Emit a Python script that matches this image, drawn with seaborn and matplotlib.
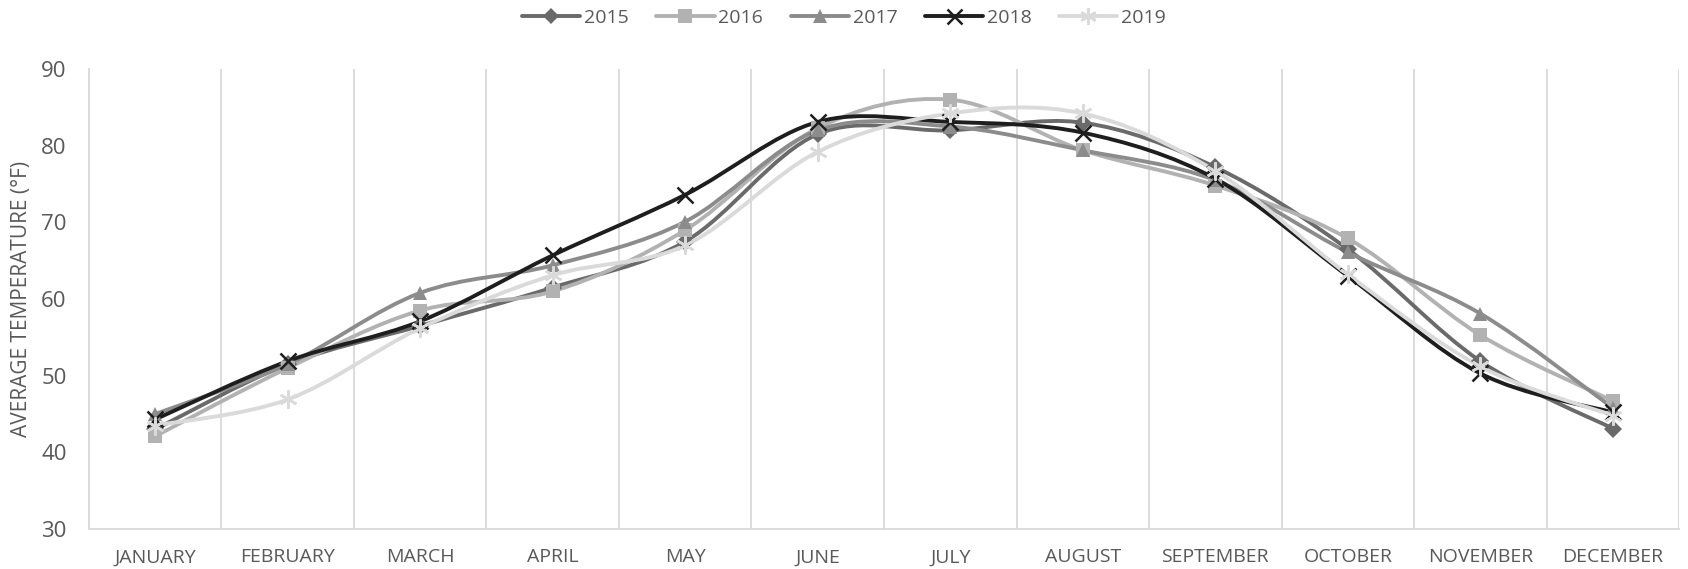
import numpy as np
import pandas as pd
import matplotlib
matplotlib.use("Agg")
import matplotlib.pyplot as plt
from matplotlib.path import Path
from matplotlib.patches import PathPatch
from matplotlib.lines import Line2D
import seaborn as sns

months = ["JANUARY", "FEBRUARY", "MARCH", "APRIL", "MAY", "JUNE", "JULY",
          "AUGUST", "SEPTEMBER", "OCTOBER", "NOVEMBER", "DECEMBER"]
years = ["2015", "2016", "2017", "2018", "2019"]
t2015 = [43.0, 51.5, 56.5, 61.5, 67.5, 81.5, 82.0, 83.0, 77.2, 66.5, 51.9, 43.1]
t2016 = [42.1, 51.0, 58.5, 61.0, 69.0, 82.3, 86.0, 79.4, 74.8, 67.9, 55.3, 46.7]
t2017 = [45.0, 51.5, 60.8, 64.4, 70.1, 82.0, 82.5, 79.4, 75.5, 66.1, 58.1, 45.8]
t2018 = [44.3, 51.9, 57.1, 65.7, 73.6, 83.1, 83.1, 81.7, 75.7, 63.0, 50.3, 45.2]
t2019 = [43.5, 46.9, 56.2, 63.1, 67.0, 79.2, 84.2, 84.2, 76.7, 63.2, 51.2, 44.8]
yticks = [30, 40, 50, 60, 70, 80, 90]

series = {"2015": t2015, "2016": t2016, "2017": t2017, "2018": t2018, "2019": t2019}
colors = {"2015": "#6a6a6a", "2016": "#b2b2b2", "2017": "#8c8c8c",
          "2018": "#1e1e1e", "2019": "#dadada"}
markers = {"2015": "D", "2016": "s", "2017": "^", "2018": "x", "2019": (6, 2, 0)}
msizes = {"2015": 9.5, "2016": 10.5, "2017": 10.5, "2018": 12, "2019": 13}

sns.set_theme(style="white")
plt.rcParams["font.family"] = ["Open Sans", "DejaVu Sans"]

fig = plt.figure(figsize=(16.88, 5.69), dpi=100)
ax = fig.add_axes([0.0527, 0.0703, 0.942, 0.8084])

x = np.arange(len(months))


def smooth_path(xs, ys):
    pts = np.column_stack([xs, ys]).astype(float)
    n = len(pts)
    verts = [pts[0]]
    codes = [Path.MOVETO]
    for i in range(n - 1):
        p0 = pts[i - 1] if i > 0 else pts[i]
        p1 = pts[i]
        p2 = pts[i + 1]
        p3 = pts[i + 2] if i + 2 < n else pts[i + 1]
        c1 = p1 + (p2 - p0) / 6.0
        c2 = p2 - (p3 - p1) / 6.0
        verts += [c1, c2, p2]
        codes += [Path.CURVE4] * 3
    return Path(verts, codes)


for yr in years:
    vals = series[yr]
    patch = PathPatch(smooth_path(x, vals), facecolor="none",
                      edgecolor=colors[yr], lw=2.8, zorder=3,
                      capstyle="round", joinstyle="round")
    ax.add_patch(patch)
    df = pd.DataFrame({"m": x, "t": vals})
    mew = 1.8 if yr in ("2018", "2019") else 0
    sns.lineplot(data=df, x="m", y="t", ax=ax, linestyle="", marker=markers[yr],
                 markersize=msizes[yr], color=colors[yr], markeredgecolor=colors[yr],
                 markeredgewidth=mew, zorder=4, legend=False)

ax.set_xlim(-0.5, len(months) - 0.5)
ax.set_ylim(30, 90)
ax.set_yticks(yticks)
ax.set_yticklabels([str(v) for v in yticks], fontsize=16, color="#595959")
ax.set_xticks(x)
ax.set_xticklabels(months, fontsize=14, color="#595959")
ax.set_xticks(np.arange(-0.5, len(months), 1.0), minor=True)
ax.tick_params(axis="x", which="both", length=0, pad=14)
ax.tick_params(axis="y", length=0, pad=16)
ax.grid(False)
ax.xaxis.grid(True, which="minor", color="#d9d9d9", lw=1.3)
for s in ["top", "right"]:
    ax.spines[s].set_visible(False)
ax.spines["left"].set_color("#d9d9d9")
ax.spines["left"].set_linewidth(1.3)
ax.spines["bottom"].set_color("#d9d9d9")
ax.spines["bottom"].set_linewidth(1.3)
ax.set_xlabel("")
ax.set_ylabel("AVERAGE TEMPERATURE (°F)", fontsize=15, color="#595959", labelpad=7)

handles = [Line2D([0], [0], color=colors[yr], lw=2.8, marker=markers[yr],
                  markersize=msizes[yr] * 0.9, markeredgecolor=colors[yr],
                  markeredgewidth=1.8 if yr in ("2018", "2019") else 0)
           for yr in years]
fig.legend(handles, years, loc="center", bbox_to_anchor=(0.5, 0.968), ncol=5,
           frameon=False, fontsize=14, handlelength=3.0, columnspacing=1.4,
           handletextpad=0.2, labelcolor="#595959")

fig.savefig("out.png", dpi=100)
